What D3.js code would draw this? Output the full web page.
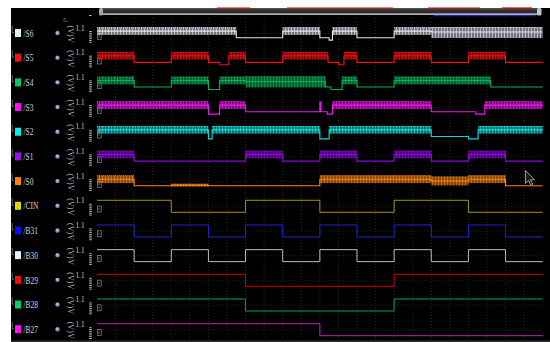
<!DOCTYPE html>
<html>
<head>
<meta charset="utf-8">
<script src="https://cdn.jsdelivr.net/npm/d3@7"></script>
<style>
  html, body { margin: 0; padding: 0; background: #ffffff; }
  svg { display: block; }
</style>
</head>
<body>
<svg id="chart" width="550" height="342"></svg>
<script>
// Channel list, top to bottom
const names = ["/S6", "/S5", "/S4", "/S3", "/S2", "/S1", "/S0", "/CIN", "/B31", "/B30", "/B29", "/B28", "/B27"];
const swatchColors = ["#e4ecf8", "#ff1010", "#00c864", "#ff10ff", "#00eeee", "#9a10ee", "#ff8000", "#e6d400", "#0a0aff", "#e8eef6", "#ff0a0a", "#00d070", "#ff10ff"];
const lineColors = ["#dfe5ef", "#f01010", "#00b45a", "#ee18ee", "#10dada", "#8c08dc", "#ff8410", "#a89600", "#2424d0", "#b8bcc2", "#d20000", "#00a458", "#c020c8"];

// Status outputs: [start, end, state], time in clock half-periods
const S6 = [[0, 3.75, "H"], [3.75, 5, "L"], [5, 6, "H"], [6, 6.25, "L"], [6.25, 6.34, "D"], [6.34, 7, "H"], [7, 8, "L"], [8, 9, "H"], [9, 12, "X"]];
const S5 = [[0, 1, "H"], [1, 2, "L"], [2, 3, "H"], [3, 3.3, "L"], [3.3, 3.55, "D"], [3.55, 4, "H"], [4, 5, "L"], [5, 6.22, "H"], [6.22, 6.5, "L"], [6.5, 6.65, "D"], [6.65, 7, "H"], [7, 8, "L"], [8, 9, "H"], [9, 10, "L"], [10, 11, "H"], [11, 12, "L"]];
const S4 = [[0, 1, "H"], [1, 2, "L"], [2, 3, "H"], [3, 3.3, "D"], [3.3, 4, "H"], [4, 6.15, "X"], [6.15, 6.3, "L"], [6.3, 6.6, "D"], [6.6, 7, "H"], [7, 8, "L"], [8, 10.6, "H"], [10.6, 12, "L"]];
const S3 = [[0, 3, "H"], [3, 3.3, "D"], [3.3, 4, "H"], [4, 6, "L"], [6, 6.03, "T"], [6.03, 6.2, "L"], [6.2, 6.34, "D"], [6.34, 9, "H"], [9, 10.2, "L"], [10.2, 10.44, "D"], [10.44, 12, "H"]];
const S2 = [[0, 3, "H"], [3, 3.1, "D"], [3.1, 6, "H"], [6, 6.25, "D"], [6.25, 9, "H"], [9, 10, "L"], [10, 10.26, "D"], [10.26, 12, "H"]];
const S1 = [[0, 1, "H"], [1, 4, "L"], [4, 5, "H"], [5, 6, "L"], [6, 7, "H"], [7, 8, "L"], [8, 9, "H"], [9, 10, "L"], [10, 11, "H"], [11, 12, "L"]];
const S0 = [[0, 1, "H"], [1, 2, "L"], [2, 3, "N"], [3, 6, "L"], [6, 9, "H"], [9, 10, "M"], [10, 11, "H"], [11, 12, "L"]];

// Inputs: logic level per half-period
const CIN = [1, 1, 0, 0, 1, 1, 0, 0, 1, 1, 0, 0];
const B31 = [1, 0, 1, 0, 1, 0, 1, 0, 1, 0, 1, 0];
const B30 = [1, 0, 1, 0, 1, 0, 1, 0, 1, 0, 1, 0];
const B29 = [1, 1, 1, 1, 0, 0, 0, 0, 1, 1, 1, 1];
const B28 = [1, 1, 1, 1, 0, 0, 0, 0, 1, 1, 1, 1];
const B27 = [1, 1, 1, 1, 1, 1, 0, 0, 0, 0, 0, 0];

// Signal levels (fraction of full swing) and noise envelopes
const levels = { L: 0.15, H: 0.7, X: 0.62, D: -0.05, N: 0.2, M: 0.55, T: 0.98 };
const envelopes = { H: [0.38, 1.02], X: [0.12, 1.04], N: [0.08, 0.32], M: [0.18, 0.92] };

const statusSeries = [S6, S5, S4, S3, S2, S1, S0];
const logicSeries = [CIN, B31, B30, B29, B28, B27];

const svg = d3.select("#chart");
const defs = svg.append("defs");

const x = d3.scaleLinear().domain([0, 12]).range([97, 542.7]);
const row = d3.scalePoint().domain(names).range([39.5, 335.7]);
const lev = d3.scaleLinear().domain([0, 1]).range([0, -12]);

// Screen background
svg.append("rect").attr("x", 11).attr("y", 8).attr("width", 539).attr("height", 334).attr("fill", "#000");
svg.append("line").attr("x1", 11).attr("x2", 550).attr("y1", 341.2).attr("y2", 341.2).attr("stroke", "#4a4a4a").attr("stroke-width", 1);

// Grid
const grid = svg.append("g");
grid.selectAll("line.v").data(d3.range(0.5, 12, 0.5)).join("line")
  .attr("x1", d => x(d)).attr("x2", d => x(d)).attr("y1", 18).attr("y2", 340)
  .attr("stroke", "#262626").attr("stroke-width", 1).attr("stroke-dasharray", "1,2");
grid.selectAll("line.h").data(names).join("line")
  .attr("x1", 97).attr("x2", 543).attr("y1", d => row(d) - 6).attr("y2", d => row(d) - 6)
  .attr("stroke", "#222").attr("stroke-width", 1).attr("stroke-dasharray", "1,2");

// Top scroll bar
const bar = svg.append("g");
bar.append("rect").attr("x", 100).attr("y", 8).attr("width", 441).attr("height", 7).attr("fill", "#505050");
bar.append("rect").attr("x", 103).attr("y", 9.5).attr("width", 434).attr("height", 3.5).attr("fill", "#2e2e2e");
bar.append("line").attr("x1", 100).attr("x2", 541).attr("y1", 14.3).attr("y2", 14.3).attr("stroke", "#b4b4b4").attr("stroke-width", 1.4);
bar.append("rect").attr("x", 99).attr("y", 8).attr("width", 4).attr("height", 7.5).attr("rx", 1.5).attr("fill", "#a8a8a8");
bar.append("rect").attr("x", 537).attr("y", 8).attr("width", 4.5).attr("height", 7.5).attr("rx", 1.5).attr("fill", "#c4c4c4");
[[217, 250], [287, 393], [428, 480], [502, 532]].forEach(([a, b]) => {
  bar.append("line").attr("x1", a).attr("x2", b).attr("y1", 8).attr("y2", 8).attr("stroke", "#d40000").attr("stroke-width", 1.2);
});
bar.append("line").attr("x1", 434).attr("x2", 536).attr("y1", 15.6).attr("y2", 15.6).attr("stroke", "#2020c8").attr("stroke-width", 1.2);
svg.append("text").attr("x", 63).attr("y", 22).attr("font-family", "Liberation Serif").attr("font-size", 6).attr("fill", "#9a9a9a").text("5..");
svg.append("line").attr("x1", 89).attr("x2", 91.5).attr("y1", 15.5).attr("y2", 15.5).attr("stroke", "#bbb");

// Left channel panel
const panel = svg.append("g");
names.forEach((n, i) => {
  const y0 = row(n);
  const g = panel.append("g");
  g.append("path").attr("d", `M12.2,${y0 - 14} V${y0 - 7} H14`).attr("fill", "none").attr("stroke", "#777").attr("stroke-width", 0.8);
  g.append("rect").attr("x", 15).attr("y", y0 - 10.5).attr("width", 6).attr("height", 8).attr("fill", swatchColors[i]);
  g.append("text").attr("transform", `translate(23.5,${y0 - 2.8}) scale(0.74,1)`)
    .attr("font-family", "Liberation Serif").attr("font-size", 10).attr("fill", "#d6d6d6").text(n);
  g.append("circle").attr("cx", 57.5).attr("cy", y0 - 6.5).attr("r", 2.2).attr("fill", "#7e94c2");
  g.append("circle").attr("cx", 57.2).attr("cy", y0 - 6.9).attr("r", 0.9).attr("fill", "#c8d4ee");
  g.append("text").attr("transform", `translate(67.5,${y0 - 14}) rotate(90)`)
    .attr("font-family", "Liberation Serif").attr("font-size", 8).attr("fill", "#b8b8b8").text("(V)");
  g.append("text").attr("transform", `translate(67.5,${y0 - 2.5}) rotate(90)`)
    .attr("font-family", "Liberation Serif").attr("font-size", 8).attr("fill", "#b8b8b8").text("V");
  g.append("text").attr("transform", `translate(75.5,${y0 - 8.8}) scale(0.8,1)`)
    .attr("font-family", "Liberation Serif").attr("font-size", 9).attr("fill", "#cfcfcf").text("1.1");
  g.selectAll("line.tick").data(d3.range(-8, 3, 1.8)).join("line")
    .attr("x1", 89.2).attr("x2", 91.8).attr("y1", d => y0 + d).attr("y2", d => y0 + d)
    .attr("stroke", "#c4c4c4").attr("stroke-width", 0.9);
  g.append("rect").attr("x", 97.6).attr("y", y0 - 6.2).attr("width", 3.6).attr("height", 6)
    .attr("fill", "#000").attr("stroke", "#8a8a8a").attr("stroke-width", 0.7);
  g.append("line").attr("x1", 99.1).attr("x2", 99.1).attr("y1", y0 - 4.6).attr("y2", y0 - 2)
    .attr("stroke", "#9a9a9a").attr("stroke-width", 0.6);
});

// Noise texture for each status channel
statusSeries.forEach((s, i) => {
  const c = lineColors[i];
  const p = defs.append("pattern").attr("id", "noise" + i).attr("patternUnits", "userSpaceOnUse")
    .attr("width", 3).attr("height", 40);
  p.append("rect").attr("width", 3).attr("height", 40).attr("fill", c).attr("opacity", 0.42);
  p.append("line").attr("x1", 0.5).attr("x2", 0.5).attr("y1", 0).attr("y2", 40).attr("stroke", c).attr("stroke-width", 0.8).attr("opacity", 0.85);
  p.append("line").attr("x1", 2).attr("x2", 2).attr("y1", 0).attr("y2", 40).attr("stroke", c).attr("stroke-width", 0.5).attr("opacity", 0.6);
});

const stepLine = d3.line().x(d => x(d[0])).y(d => d[1]).curve(d3.curveStepAfter);

// Status channels
const plots = svg.append("g");
statusSeries.forEach((s, i) => {
  const y0 = row(names[i]);
  const g = plots.append("g");
  const pts = s.map(d => [d[0], y0 + lev(levels[d[2]])]);
  const last = s[s.length - 1];
  pts.push([last[1], y0 + lev(levels[last[2]])]);
  g.append("path").attr("d", stepLine(pts)).attr("fill", "none")
    .attr("stroke", lineColors[i]).attr("stroke-width", 1.1);
  const noisy = s.filter(d => envelopes[d[2]]);
  g.selectAll("rect.band").data(noisy).join("rect")
    .attr("x", d => x(d[0])).attr("width", d => x(d[1]) - x(d[0]))
    .attr("y", d => y0 + lev(envelopes[d[2]][1]))
    .attr("height", d => lev(envelopes[d[2]][0]) - lev(envelopes[d[2]][1]))
    .attr("fill", `url(#noise${i})`);
  g.selectAll("line.top").data(noisy).join("line")
    .attr("x1", d => x(d[0])).attr("x2", d => x(d[1]))
    .attr("y1", d => y0 + lev(envelopes[d[2]][1]) + 0.5).attr("y2", d => y0 + lev(envelopes[d[2]][1]) + 0.5)
    .attr("stroke", lineColors[i]).attr("stroke-width", 1).attr("stroke-dasharray", "1,1");
});

// Logic inputs
logicSeries.forEach((s, j) => {
  const i = j + 7;
  const y0 = row(names[i]);
  const pts = s.map((v, k) => [k, y0 + lev(v)]);
  pts.push([s.length, y0 + lev(s[s.length - 1])]);
  plots.append("path").attr("d", stepLine(pts)).attr("fill", "none")
    .attr("stroke", lineColors[i]).attr("stroke-width", 1);
});

// Mouse pointer
svg.append("path")
  .attr("d", "M0,0 L0,13 L3,10 L5.5,15 L7.3,14.2 L4.9,9.3 L9,9.3 Z")
  .attr("transform", "translate(525.5,170.5)")
  .attr("fill", "#1a1a1a").attr("stroke", "#a8a8a8").attr("stroke-width", 0.9);
</script>
</body>
</html>
